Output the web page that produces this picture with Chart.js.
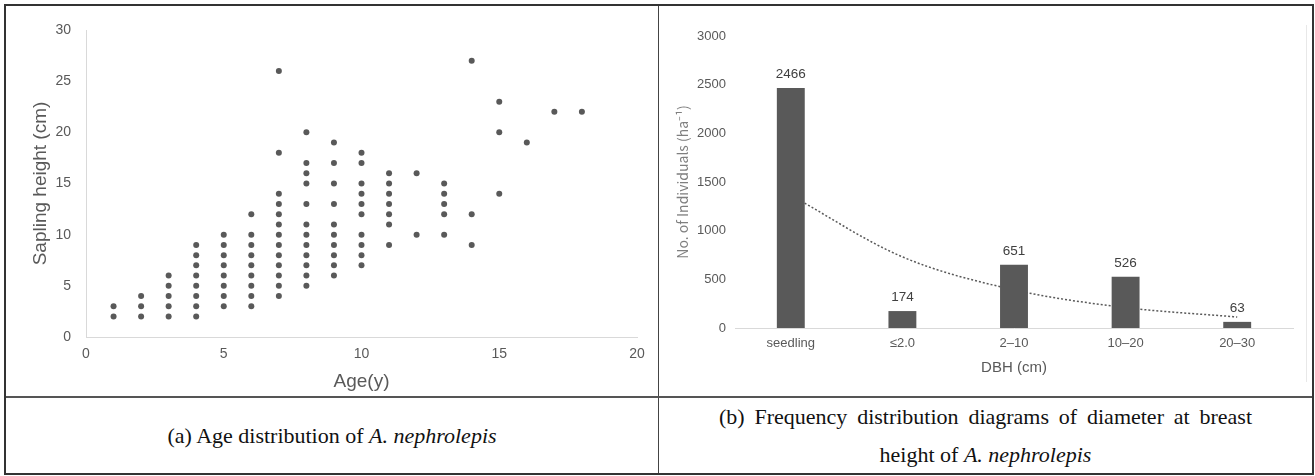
<!DOCTYPE html>
<html>
<head>
<meta charset="utf-8">
<title>A. nephrolepis</title>
<script src="https://cdn.jsdelivr.net/npm/chart.js@4/dist/chart.umd.min.js"></script>
<style>
  body { margin: 0; background: #fff; }
  .frame { position: absolute; left: 4px; top: 4px; width: 1306px; height: 467px; border: 2px solid #333; }
  .vline { position: absolute; left: 658px; top: 6px; width: 1px; height: 467px; background: #444; }
  .hline { position: absolute; left: 6px; top: 396px; width: 1306px; height: 2px; background: #555; }
  .edge { position: absolute; left: 1306px; top: 25px; width: 1px; height: 357px; background: #e8e8e8; }
  canvas { position: absolute; }
  .caption {
    position: absolute; top: 398px; height: 75px;
    display: flex; align-items: center; justify-content: center;
    font-family: "Liberation Serif", "Times New Roman", serif; font-size: 22px; line-height: 38px; color: #111;
  }
  .caption span { display: block; text-align: justify; text-align-last: center; }
</style>
</head>
<body>
<div class="frame"></div>
<div class="vline"></div>
<div class="hline"></div>
<div class="edge"></div>
<canvas id="age-chart" width="652" height="390" style="left:6px; top:6px; width:652px; height:390px;"></canvas>
<canvas id="dbh-chart" width="653" height="390" style="left:659px; top:6px; width:653px; height:390px;"></canvas>
<div class="caption" style="left:6px; width:652px;"><span>(a) Age distribution of <i>A. nephrolepis</i></span></div>
<div class="caption" style="left:659px; width:653px;"><span style="width:533px;">(b) Frequency distribution diagrams of diameter at breast height of <i>A. nephrolepis</i></span></div>

<script>
// (a) sapling heights (cm) observed at each age (y)
const ageYears = [1, 2, 3, 4, 5, 6, 7, 8, 9, 10, 11, 12, 13, 14, 15, 16, 17, 18];
const heightsAtAge = [
    [2, 3],
    [2, 3, 4],
    [2, 3, 4, 5, 6],
    [2, 3, 4, 5, 6, 7, 8, 9],
    [3, 4, 5, 6, 7, 8, 9, 10],
    [3, 4, 5, 6, 7, 8, 9, 10, 12],
    [4, 5, 6, 7, 8, 9, 10, 11, 12, 13, 14, 18, 26],
    [5, 6, 7, 8, 9, 10, 11, 13, 15, 16, 17, 20],
    [6, 7, 8, 9, 10, 11, 13, 15, 17, 19],
    [7, 8, 9, 10, 12, 13, 14, 15, 17, 18],
    [9, 11, 12, 13, 14, 15, 16],
    [10, 16],
    [10, 12, 13, 14, 15],
    [9, 12, 27],
    [14, 20, 23],
    [19],
    [22],
    [22]
];

// (b) individuals per ha by DBH class
const dbhClasses = ['seedling', '≤2.0', '2–10', '10–20', '20–30'];
const individuals = [2466, 174, 651, 526, 63];
const trendValues = [1364, 731, 392, 210, 113]; // dotted trendline

const gray = '#595959';

// build scatter points from the per-age lists
const agePoints = [];
ageYears.forEach(function(age, i) {
    heightsAtAge[i].forEach(function(h) {
        agePoints.push({ x: age, y: h });
    });
});

new Chart(document.getElementById('age-chart'), {
    type: 'scatter',
    data: {
        datasets: [{
            data: agePoints,
            backgroundColor: gray,
            borderWidth: 0,
            pointRadius: 3,
            pointHoverRadius: 3
        }]
    },
    options: {
        responsive: false,
        animation: false,
        layout: { padding: { left: 0, right: 21, top: 24, bottom: 0 } },
        plugins: { legend: { display: false }, tooltip: { enabled: false } },
        scales: {
            x: {
                type: 'linear', min: 0, max: 20,
                ticks: { stepSize: 5, color: gray, padding: 9, font: { family: 'Liberation Sans', size: 14 } },
                grid: { display: false, drawTicks: false },
                border: { color: '#d9d9d9', width: 1 },
                title: { display: true, text: 'Age(y)', color: gray, padding: { top: 0, bottom: 3 },
                         font: { family: 'Liberation Sans', size: 19 } },
                afterFit: function(scale) { scale.height = 59; }
            },
            y: {
                min: 0, max: 30,
                ticks: { stepSize: 5, color: gray, padding: 15, font: { family: 'Liberation Sans', size: 14 } },
                grid: { display: false, drawTicks: false },
                border: { color: '#d9d9d9', width: 1 },
                title: { display: true, text: 'Sapling height (cm)', color: gray, padding: { top: 23, bottom: 0 },
                         font: { family: 'Liberation Sans', size: 19 } },
                afterFit: function(scale) { scale.width = 80; }
            }
        }
    }
});

// value labels above each bar
const barLabels = {
    id: 'barLabels',
    afterDatasetsDraw: function(chart) {
        const ctx = chart.ctx;
        const meta = chart.getDatasetMeta(0);
        ctx.save();
        ctx.fillStyle = '#404040';
        ctx.font = '13.5px "Liberation Sans"';
        ctx.textAlign = 'center';
        ctx.textBaseline = 'alphabetic';
        meta.data.forEach(function(bar, i) {
            ctx.fillText(String(individuals[i]), bar.x, bar.y - 10);
        });
        ctx.restore();
    }
};

new Chart(document.getElementById('dbh-chart'), {
    type: 'bar',
    data: {
        labels: dbhClasses,
        datasets: [{
            type: 'bar',
            data: individuals,
            backgroundColor: gray,
            barPercentage: 0.25,
            categoryPercentage: 1,
            order: 1
        }, {
            type: 'line',
            data: trendValues,
            borderColor: gray,
            borderWidth: 1.5,
            borderDash: [2, 2],
            pointRadius: 0,
            fill: false,
            cubicInterpolationMode: 'monotone',
            order: 2
        }]
    },
    options: {
        responsive: false,
        animation: false,
        layout: { padding: { left: 0, right: 19, top: 30, bottom: 0 } },
        plugins: { legend: { display: false }, tooltip: { enabled: false } },
        scales: {
            x: {
                ticks: { color: gray, padding: 8, font: { family: 'Liberation Sans', size: 13 } },
                grid: { display: false, drawTicks: false },
                border: { color: '#d9d9d9', width: 1 },
                title: { display: true, text: 'DBH (cm)', color: gray, padding: { top: 0, bottom: 19 },
                         font: { family: 'Liberation Sans', size: 15 } },
                afterFit: function(scale) { scale.height = 68; }
            },
            y: {
                min: 0, max: 3000,
                ticks: {
                    stepSize: 500, color: gray, padding: 9, font: { family: 'Liberation Sans', size: 13 },
                    callback: function(value) { return String(value); }
                },
                grid: { display: false, drawTicks: false },
                border: { display: false },
                title: { display: true, text: 'No. of Individuals (ha⁻¹)', color: '#7f7f7f', padding: { top: 15, bottom: 0 },
                         font: { family: 'Noto Sans CJK KR', size: 14 } },
                afterFit: function(scale) { scale.width = 76; }
            }
        }
    },
    plugins: [barLabels]
});
</script>
</body>
</html>
